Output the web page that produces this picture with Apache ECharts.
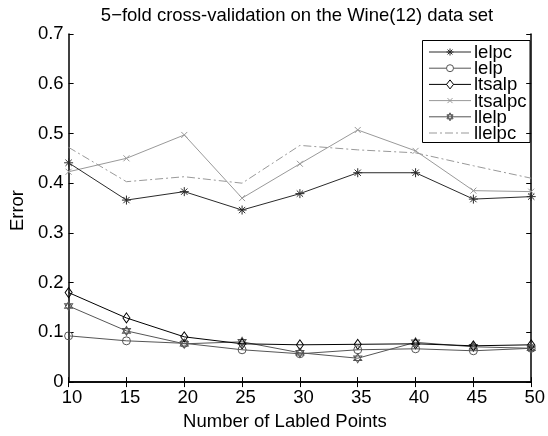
<!DOCTYPE html>
<html><head><meta charset="utf-8">
<script src="https://cdn.jsdelivr.net/npm/echarts@6/dist/echarts.min.js"></script>
<style>html,body{margin:0;padding:0;background:#fff}#c{width:548px;height:436px}</style>
</head><body><div id="c"></div>
<script>
const xs = [10, 15, 20, 25, 30, 35, 40, 45, 50];
const seriesNames = ['lelpc', 'lelp', 'ltsalp', 'ltsalpc', 'llelp', 'llelpc'];
const lelpc   = [0.441, 0.366, 0.383, 0.346, 0.379, 0.421, 0.421, 0.368, 0.373];
const lelp    = [0.093, 0.083, 0.078, 0.065, 0.057, 0.065, 0.067, 0.063, 0.068];
const ltsalp  = [0.180, 0.129, 0.091, 0.077, 0.075, 0.076, 0.077, 0.073, 0.075];
const ltsalpc = [0.423, 0.450, 0.497, 0.370, 0.439, 0.507, 0.465, 0.385, 0.383];
const llelp   = [0.153, 0.103, 0.077, 0.081, 0.059, 0.048, 0.080, 0.071, 0.068];
const llelpc  = [0.472, 0.403, 0.413, 0.400, 0.476, 0.467, 0.461, 0.435, 0.410];
const yTicks = [0, 0.1, 0.2, 0.3, 0.4, 0.5, 0.6, 0.7];

const FONT = 'Liberation Sans';
const pair = a => xs.map((x, i) => [x, a[i]]);
const P_ASTER = 'M0,-5L0,5M-5,0L5,0M-3.5,-3.5L3.5,3.5M-3.5,3.5L3.5,-3.5';
const P_CROSS = 'M-4,-4L4,4M-4,4L4,-4';
const P_HEXA = 'M0,-5L4.33,2.5L-4.33,2.5ZM0,5L4.33,-2.5L-4.33,-2.5Z';
const P_DIAM = 'M0,-5L3.5,0L0,5L-3.5,0Z';
const P_CIRC = 'M5,0A5,5,0,1,1,-5,0A5,5,0,1,1,5,0Z';

// series style spec: [data, line color, marker kind, marker path, marker size [w,h], dash]
const specs = [
  [lelpc,   '#2a2a2a', 'aster', P_ASTER, [9, 9],  null],
  [lelp,    '#555555', 'circ',  P_CIRC,  [8, 8],  null],
  [ltsalp,  '#000000', 'diam',  P_DIAM,  [7, 10], null],
  [ltsalpc, '#999999', 'cross', P_CROSS, [6, 6],  null],
  [llelp,   '#555555', 'hexa',  P_HEXA,  [8, 9],  null],
  [llelpc,  '#999999', null,    null,    [0, 0],  [8, 3, 2, 3]]
];
const legendSizes = [[7, 7], [7, 7], [7, 9], [5, 5], [7, 8], [0, 0]];

const series = specs.map((s, i) => ({
  name: seriesNames[i], type: 'line', data: pair(s[0]),
  symbol: s[3] ? 'path://' + s[3] : 'none', symbolSize: s[4], symbolKeepAspect: false,
  showAllSymbol: true, animation: false, z: 10 - i,
  lineStyle: { color: s[1], width: 1, type: s[5] || 'solid' },
  itemStyle: { color: 'rgba(255,255,255,0)', borderColor: s[1], borderWidth: 1 },
  emphasis: { disabled: true }
}));

function markerEls(kind, cx, cy, w, h, color) {
  const st = { stroke: color, lineWidth: 1, fill: '#fff' };
  const hw = w / 2, hh = h / 2;
  const ln = (x1, y1, x2, y2) => ({ type: 'line', shape: { x1, y1, x2, y2 }, style: { stroke: color, lineWidth: 1 } });
  if (kind === 'aster') return [ln(cx, cy - hh, cx, cy + hh), ln(cx - hw, cy, cx + hw, cy),
    ln(cx - hw * 0.7, cy - hh * 0.7, cx + hw * 0.7, cy + hh * 0.7), ln(cx - hw * 0.7, cy + hh * 0.7, cx + hw * 0.7, cy - hh * 0.7)];
  if (kind === 'cross') return [ln(cx - hw, cy - hh, cx + hw, cy + hh), ln(cx - hw, cy + hh, cx + hw, cy - hh)];
  if (kind === 'circ') return [{ type: 'circle', shape: { cx, cy, r: hw }, style: st }];
  if (kind === 'diam') return [{ type: 'polygon', shape: { points: [[cx, cy - hh], [cx + hw, cy], [cx, cy + hh], [cx - hw, cy]] }, style: st }];
  if (kind === 'hexa') return [
    { type: 'polygon', shape: { points: [[cx, cy - hh], [cx + hw * 0.87, cy + hh * 0.5], [cx - hw * 0.87, cy + hh * 0.5]] }, style: { stroke: color, lineWidth: 1, fill: 'none' } },
    { type: 'polygon', shape: { points: [[cx, cy + hh], [cx + hw * 0.87, cy - hh * 0.5], [cx - hw * 0.87, cy - hh * 0.5]] }, style: { stroke: color, lineWidth: 1, fill: 'none' } }];
  return [];
}

// legend drawn as graphic (line + marker + text)
const LX = 422.5, LY = 40.5, LW = 107.5, LH = 102, ROW = 16.2, ROW0 = 11.5;
const legendChildren = [{ type: 'rect', shape: { x: LX, y: LY, width: LW, height: LH },
  style: { fill: '#fff', stroke: '#000', lineWidth: 1 } }];
specs.forEach((s, i) => {
  const cy = LY + ROW0 + ROW * i;
  legendChildren.push({ type: 'line', shape: { x1: LX + 6.5, y1: cy, x2: LX + 48.5, y2: cy },
    style: { stroke: s[1], lineWidth: 1, lineDash: s[5] || null } });
  const [w, h] = legendSizes[i];
  markerEls(s[2], LX + 27.5, cy, w, h, s[1]).forEach(e => legendChildren.push(e));
  legendChildren.push({ type: 'text', x: LX + 51.5, y: cy + 1, style: { text: seriesNames[i], fontFamily: FONT, fontSize: 18.5,
    fill: '#000', verticalAlign: 'middle', align: 'left' } });
});

const chart = echarts.init(document.getElementById('c'), null, { renderer: 'canvas' });
const axisCommon = {
  axisLine: { show: true, lineStyle: { color: '#000', width: 1.5 } },
  axisTick: { show: true, inside: true, length: 5, lineStyle: { color: '#000', width: 1 } },
  splitLine: { show: false }
};
chart.setOption({
  backgroundColor: '#fff',
  animation: false,
  title: { text: '5\u2212fold cross-validation on the Wine(12) data set', left: 292, top: 1, textAlign: 'center',
    textStyle: { fontFamily: FONT, fontSize: 18.5, fontWeight: 'normal', color: '#000' } },
  grid: { left: 65.5, right: 15, top: 34, bottom: 52, containLabel: false },
  xAxis: [
    Object.assign({ type: 'value', min: 10, max: 50, interval: 5, position: 'bottom',
      name: 'Number of Labled Points', nameLocation: 'middle', nameGap: 29,
      nameTextStyle: { fontFamily: FONT, fontSize: 18.5, color: '#000', padding: [0, 30, 0, 0] },
      axisLabel: { fontFamily: FONT, fontSize: 18.5, color: '#000', margin: 6, padding: [0, 0, 0, 7] } }, axisCommon),
    Object.assign({ type: 'value', min: 10, max: 50, interval: 5, position: 'top',
      axisLabel: { show: false } }, axisCommon)
  ],
  yAxis: [
    Object.assign({ type: 'value', min: 0, max: 0.7, interval: 0.1, position: 'left',
      name: 'Error', nameLocation: 'middle', nameGap: 40,
      nameTextStyle: { fontFamily: FONT, fontSize: 18.5, color: '#000', padding: [0, 5, 0, 0] },
      axisLabel: { fontFamily: FONT, fontSize: 18.5, color: '#000', margin: 5,
        formatter: v => { const t = yTicks.find(k => Math.abs(k - v) < 1e-9); return t === 0 ? '0' : (t !== undefined ? t.toFixed(1) : ''); } } }, axisCommon),
    Object.assign({ type: 'value', min: 0, max: 0.7, interval: 0.1, position: 'right',
      axisLabel: { show: false } }, axisCommon)
  ],
  series: series,
  graphic: { elements: [{ type: 'group', x: 0, y: 0, z: 100, children: legendChildren }] }
});
</script>
</body></html>
